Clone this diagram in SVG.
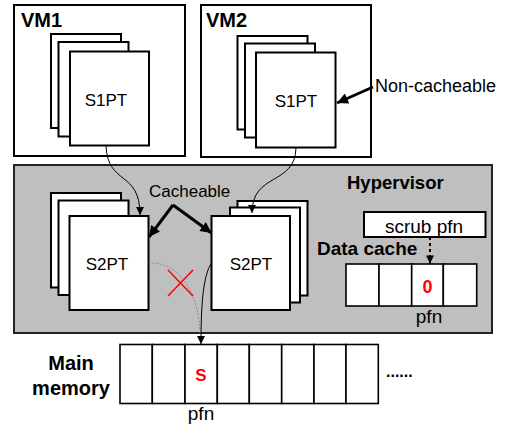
<svg xmlns="http://www.w3.org/2000/svg" width="507" height="427" viewBox="0 0 507 427">
<style>
text{font-family:"Liberation Sans",Arial,sans-serif;fill:#000}
.b{font-weight:bold}
.box{fill:#fff;stroke:#000;stroke-width:2}
.pg{fill:#fff;stroke:#000;stroke-width:2}
.cell{fill:#fff;stroke:#000;stroke-width:1.6}
.thin{fill:none;stroke:#000;stroke-width:1}
.thick{fill:none;stroke:#000;stroke-width:3}
.red{fill:#ff0000;font-weight:bold}
</style>
<defs>
<marker id="ah" viewBox="0 0 10 10" refX="10" refY="5" markerUnits="userSpaceOnUse" markerWidth="9" markerHeight="8" orient="auto"><path d="M0,0 L10,5 L0,10 z" fill="#000"/></marker>
<marker id="ahB" viewBox="0 0 10 10" refX="10" refY="5" markerUnits="userSpaceOnUse" markerWidth="12" markerHeight="11" orient="auto"><path d="M0,0 L10,5 L0,10 z" fill="#000"/></marker>
</defs>

<g id="vm1">
<rect class="box" x="14" y="5" width="171" height="151"/>
<text class="b" x="21" y="27" font-size="20">VM1</text>
<rect class="pg" x="51" y="34" width="70" height="94"/>
<rect class="pg" x="58.5" y="42" width="70" height="94.5"/>
<rect class="pg" x="70" y="51.5" width="79" height="94"/>
<text x="106" y="106" font-size="17" text-anchor="middle">S1PT</text>
</g>

<g id="vm2">
<rect class="box" x="201" y="5" width="170" height="152"/>
<text class="b" x="206" y="27" font-size="20">VM2</text>
<rect class="pg" x="237.5" y="36" width="70" height="93.5"/>
<rect class="pg" x="245" y="43.5" width="70" height="94"/>
<rect class="pg" x="256" y="52.5" width="79.5" height="95"/>
<text x="296" y="107" font-size="17" text-anchor="middle">S1PT</text>
</g>

<g id="non-cacheable">
<text x="375" y="92" font-size="18">Non-cacheable</text>
</g>

<g id="hypervisor">
<rect x="14" y="165" width="478" height="168" fill="#bfbfbf" stroke="#222" stroke-width="2"/>
<text class="b" x="347" y="189" font-size="18.5">Hypervisor</text>
</g>

<g id="s2pt-left">
<rect class="pg" x="51" y="193" width="70" height="94.5"/>
<rect class="pg" x="58.5" y="200.5" width="70" height="94.5"/>
<rect class="pg" x="69.5" y="216" width="79" height="94"/>
<text x="107" y="270" font-size="17" text-anchor="middle">S2PT</text>
</g>

<g id="s2pt-right">
<rect class="pg" x="237.5" y="201" width="70" height="94.5"/>
<rect class="pg" x="230" y="207.5" width="70" height="95"/>
<rect class="pg" x="211.5" y="216" width="78.5" height="94"/>
<text x="251" y="270" font-size="17" text-anchor="middle">S2PT</text>
</g>

<g id="cacheable">
<text x="149" y="197" font-size="17">Cacheable</text>
</g>

<g id="scrub">
<rect class="box" x="364" y="212" width="121.5" height="25"/>
<text x="424" y="233" font-size="19" text-anchor="middle">scrub pfn</text>
</g>

<g id="data-cache">
<text class="b" x="317" y="255" font-size="19">Data cache</text>
<rect class="cell" x="346" y="264" width="33" height="42"/>
<rect class="cell" x="379" y="264" width="32.7" height="42"/>
<rect class="cell" x="411.7" y="264" width="31.6" height="42"/>
<rect class="cell" x="443.3" y="264" width="33.4" height="42"/>
<text class="red" x="427.5" y="293" font-size="18" text-anchor="middle">0</text>
<text x="429" y="323" font-size="19" text-anchor="middle">pfn</text>
</g>

<g id="main-memory">
<text class="b" x="71" y="370" font-size="20" text-anchor="middle">Main</text>
<text class="b" x="71" y="395" font-size="20" text-anchor="middle">memory</text>
<rect class="cell" x="120" y="344.5" width="32.3" height="59"/>
<rect class="cell" x="152.3" y="344.5" width="32.7" height="59"/>
<rect class="cell" x="185" y="344.5" width="32.3" height="59"/>
<rect class="cell" x="217.3" y="344.5" width="32" height="59"/>
<rect class="cell" x="249.3" y="344.5" width="32.4" height="59"/>
<rect class="cell" x="281.7" y="344.5" width="32.3" height="59"/>
<rect class="cell" x="314" y="344.5" width="32" height="59"/>
<rect class="cell" x="346" y="344.5" width="32.3" height="59"/>
<text class="red" x="201" y="381" font-size="17" text-anchor="middle">S</text>
<text class="b" x="386" y="377" font-size="16">......</text>
<text x="201" y="420" font-size="19" text-anchor="middle">pfn</text>
</g>

<g id="connectors">
<path class="thin" d="M106,146 C108,186 140,170 140,215" marker-end="url(#ah)"/>
<path class="thin" d="M296,148 C295,186 252,172 252,213" marker-end="url(#ah)"/>
<path class="thick" d="M373,87 L337,103" marker-end="url(#ahB)"/>
<path class="thick" d="M173,205 L149,237" marker-end="url(#ahB)"/>
<path class="thick" d="M173,205 L211.5,233" marker-end="url(#ahB)"/>
<path d="M149,263 C183,262 199,298 200,333" fill="none" stroke="#8c8c8c" stroke-width="1" stroke-dasharray="2,1.5"/>
<path class="thin" d="M211.5,263 C203,276 201,305 201,344" marker-end="url(#ah)"/>
<path d="M430,237 L430,263.5" fill="none" stroke="#000" stroke-width="2" stroke-dasharray="3,3" marker-end="url(#ah)"/>
<path d="M168,270 L193,296 M193,270 L168,296" stroke="#ff0000" stroke-width="1.5" fill="none"/>
</g>
</svg>
